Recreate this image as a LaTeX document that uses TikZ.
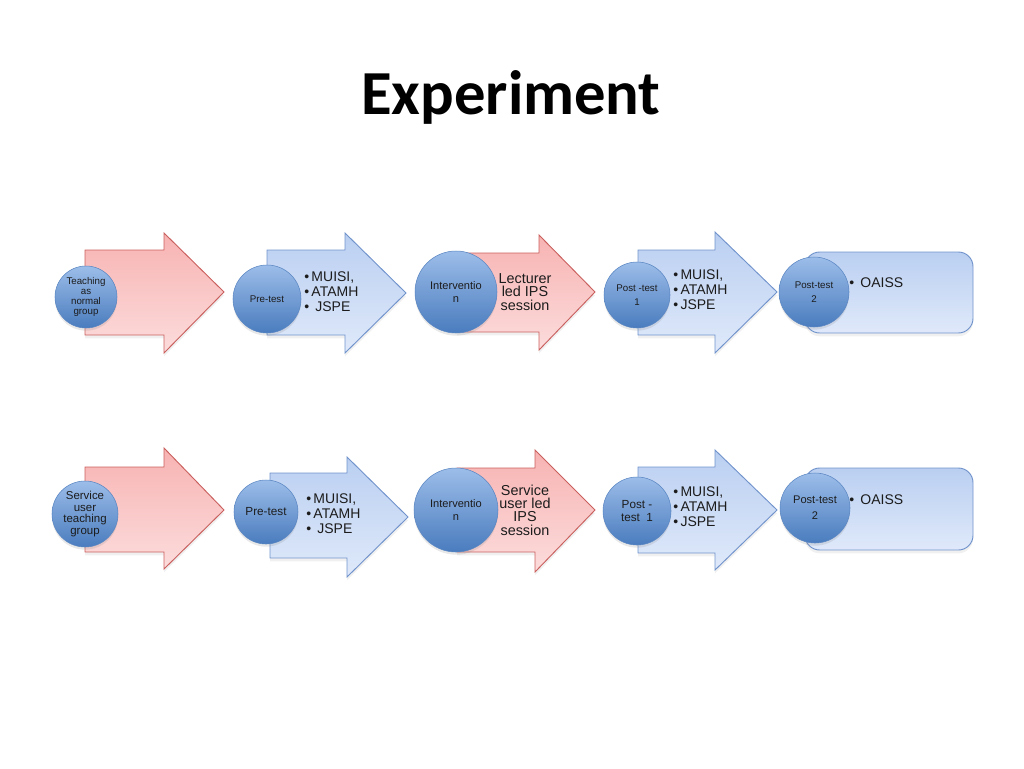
\documentclass[tikz,border=0pt]{standalone}
\usepackage{fontspec}
\setmainfont{Liberation Sans}
\newfontfamily\titlefont{Carlito}
\usetikzlibrary{shadows}

\definecolor{redline}{HTML}{C9605E}
\definecolor{redtop}{HTML}{F7B3B2}
\definecolor{redbot}{HTML}{FCDCDC}
\definecolor{blueline}{HTML}{7193CC}
\definecolor{bluetop}{HTML}{BACFF1}
\definecolor{bluebot}{HTML}{DFE9FA}
\definecolor{balltop}{HTML}{9CBDE9}
\definecolor{ballbot}{HTML}{4A7CBE}
\definecolor{ballline}{HTML}{5A86C2}
\definecolor{ink}{HTML}{1C1C1C}

\tikzset{
  redarrow/.style={draw=redline, line width=0.7pt, top color=redtop, bottom color=redbot,
    drop shadow={opacity=0.12, shadow xshift=0pt, shadow yshift=-2.5pt}},
  bluearrow/.style={draw=blueline, line width=0.7pt, top color=bluetop, bottom color=bluebot,
    drop shadow={opacity=0.12, shadow xshift=0pt, shadow yshift=-2.5pt}},
  ball/.style={circle, draw=ballline, line width=0.4pt, top color=balltop, bottom color=ballbot,
    minimum size=#1, inner sep=0pt, align=center, text=ink,
    drop shadow={opacity=0.18, shadow xshift=0pt, shadow yshift=-2pt}},
  items/.style={anchor=north west, align=left, inner sep=0pt, text=ink,
    font=\fontsize{10.5}{11.6}\selectfont},
  label/.style={align=center, inner sep=0pt, text=ink}
}

\begin{document}
\begin{tikzpicture}[x=0.75pt, y=-0.75pt]
  \useasboundingbox (0,0) rectangle (1024,768);

  \node (title) at (511,97) {\titlefont\bfseries\fontsize{47}{52}\selectfont Experiment};

  % first row: teaching as normal
  \draw[redarrow] (85,250) -- (164,250) -- (164,233) -- (224,292) -- (164,353) -- (164,335) -- (85,335) -- cycle;
  \draw[bluearrow] (267,250) -- (345,250) -- (345,233) -- (406,293) -- (345,353) -- (345,335) -- (267,335) -- cycle;
  \draw[redarrow] (457,253) -- (539,253) -- (539,235) -- (595,292) -- (539,350) -- (539,332) -- (457,332) -- cycle;
  \draw[bluearrow] (638,250) -- (715,250) -- (715,232) -- (777,292) -- (715,353) -- (715,335) -- (638,335) -- cycle;
  \draw[bluearrow, rounded corners=11pt] (805,252) rectangle (973,333);

  \node[ball=46.5pt, font=\fontsize{7.3}{7.7}\selectfont] (group1) at (86,297) {Teaching\\as\\normal\\group};
  \node[ball=51pt, font=\fontsize{7.3}{9}\selectfont] (pre1) at (267,299) {Pre-test};
  \node[items] (pretools1) at (304,271) {•\,MUISI,\\•\,ATAMH\\• \,JSPE};
  \node[ball=61.5pt, font=\fontsize{8.3}{9.5}\selectfont] (int1) at (456,292) {Interventio\\n};
  \node[label, font=\fontsize{10.8}{10}\selectfont] (session1) at (525,292) {Lecturer\\led IPS\\session};
  \node[ball=49.5pt, font=\fontsize{7.3}{10.5}\selectfont] (post1a) at (637,295) {Post -test\\1};
  \node[items] (posttools1) at (673,269) {•\,MUISI,\\•\,ATAMH\\•\,JSPE};
  \node[ball=52.5pt, font=\fontsize{7.3}{11}\selectfont] (post1b) at (814,292) {Post-test\\2};
  \node[items] (oaiss1) at (849,277) {• \,OAISS};

  % second row: service user teaching
  \draw[redarrow] (85,467) -- (164,467) -- (164,448) -- (224,510) -- (164,569) -- (164,552) -- (85,552) -- cycle;
  \draw[bluearrow] (270,473) -- (347,473) -- (347,457) -- (408,517) -- (347,577) -- (347,558) -- (270,558) -- cycle;
  \draw[redarrow] (457,468) -- (535,468) -- (535,450) -- (595,510) -- (535,572) -- (535,552) -- (457,552) -- cycle;
  \draw[bluearrow] (638,467) -- (715,467) -- (715,450) -- (777,510) -- (715,570) -- (715,553) -- (638,553) -- cycle;
  \draw[bluearrow, rounded corners=11pt] (805,468) rectangle (973,550);

  \node[ball=49.5pt, font=\fontsize{8.6}{8.8}\selectfont] (group2) at (85,514) {Service\\user\\teaching\\group};
  \node[ball=48pt, font=\fontsize{8.8}{10}\selectfont] (pre2) at (266,512) {Pre-test};
  \node[items] (pretools2) at (306,493) {•\,MUISI,\\•\,ATAMH\\• \,JSPE};
  \node[ball=63pt, font=\fontsize{8.3}{9.5}\selectfont] (int2) at (456,510) {Interventio\\n};
  \node[label, font=\fontsize{10.8}{10}\selectfont] (session2) at (525,510) {Service\\user led\\IPS\\session};
  \node[ball=51pt, font=\fontsize{8.8}{10}\selectfont] (post2a) at (637,511) {Post -\\test \ 1};
  \node[items] (posttools2) at (673,486) {•\,MUISI,\\•\,ATAMH\\•\,JSPE};
  \node[ball=52.5pt, font=\fontsize{8.3}{12}\selectfont] (post2b) at (815,508) {Post-test\\2};
  \node[items] (oaiss2) at (849,494) {• \,OAISS};
\end{tikzpicture}
\end{document}
